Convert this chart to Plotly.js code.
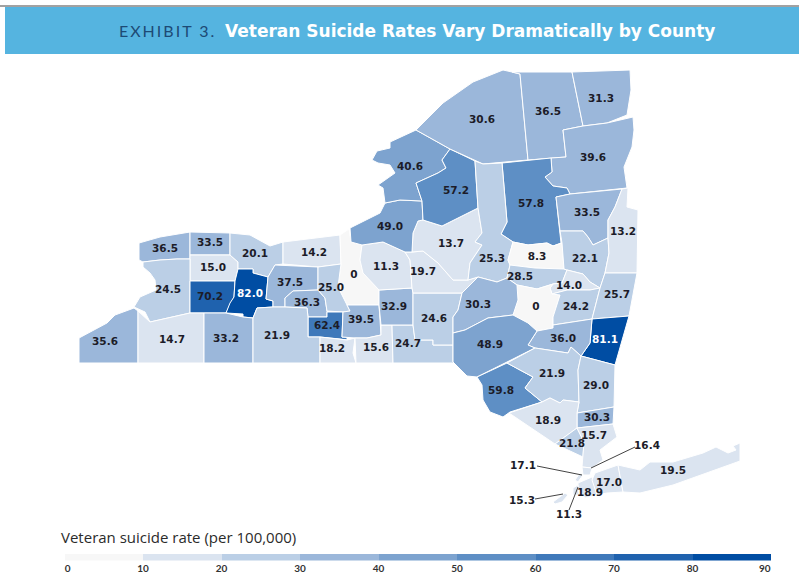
<!DOCTYPE html>
<html><head><meta charset="utf-8">
<script src="https://cdn.plot.ly/plotly-3.0.1.min.js"></script>
<style>html,body{margin:0;padding:0;background:#fff}
.annotation[data-index="0"] text{letter-spacing:2px}</style></head>
<body><div id="chart" style="width:799px;height:574px"></div>
<script>
const countyNames = ["Niagara","Orleans","Genesee","Monroe","Wayne","Cayuga","Erie","Wyoming","Livingston","Ontario","Yates","Seneca","Schuyler","Tompkins","Chautauqua","Cattaraugus","Allegany","Steuben","Chemung","Tioga","Broome","Cortland","Chenango","Onondaga","Madison","Oneida","Oswego","Jefferson","Lewis","St. Lawrence","Franklin","Clinton","Essex","Hamilton","Herkimer","Fulton","Montgomery","Warren","Saratoga","Washington","Schenectady","Schoharie","Albany","Rensselaer","Columbia","Greene","Otsego","Delaware","Sullivan","Ulster","Dutchess","Putnam","Orange","Rockland","Westchester","Bronx","New York","Queens","Kings","Richmond","Nassau","Suffolk"];
const countyRates = [36.5,33.5,15.0,20.1,14.2,0,24.5,70.2,82.0,37.5,36.3,25.0,62.4,39.5,35.6,14.7,33.2,21.9,18.2,15.6,24.7,32.9,24.6,11.3,19.7,13.7,49.0,40.6,57.2,30.6,36.5,31.3,39.6,57.8,25.3,8.3,28.5,33.5,22.1,13.2,14.0,0,24.2,25.7,81.1,36.0,30.3,48.9,59.8,21.9,29.0,30.3,18.9,21.8,15.7,16.4,17.1,18.9,11.3,15.3,17.0,19.5];
const labelX = [165,210,213,255,314,354,168,210,250,290,307,331,327,361,105,172,226,277,332,376,408,394,434,386,423,451,390,410,456,482,548,601,593,531,492,537,520,587,585,623,569,536,576,617,605,563,478,490,501,552,596,597,548,572,594,647,523,590,569,522,609,673];
const labelY = [249,243,268,254,253,275,290,297,294,283,303,288,326,320,342,340,339,336,349,348,344,307,319,267,272,244,227,167,191,120,112,99,158,204,259,257,277,213,259,232,286,307,307,295,340,339,305,345,391,374,386,418,421,444,436,446,466,493,515,501,483,471];
const countyOutlines = [
[139,243,160,237,190,232,190,259,177,259,160,260,143,262,139,260],
[190,232,230,233,230,255,190,255],
[190,255,230,255,238,262,238,269,235,281,190,281],
[230,233,250,235,270,246,283,242,283,264,275,265,268,277,253,273,253,269,238,269,238,262,230,255],
[283,242,340,235,341,264,318,267,283,264],
[340,235,349,229,351,242,362,245,360,260,363,273,379,290,379,305,347,305,338,287,341,264],
[143,262,160,260,177,259,190,259,190,313,150,322,145,312,134,307,140,297,156,290,155,280,150,273,143,267],
[190,281,235,281,234,297,226,313,190,313],
[238,269,253,269,253,273,268,277,266,299,273,301,273,307,257,308,253,318,243,317,243,314,226,313,230,303,234,297,235,281],
[275,265,318,267,318,290,293,291,285,298,285,307,273,307,273,301,266,299,268,277],
[293,291,318,290,325,298,327,311,327,317,308,317,307,308,285,307,285,298],
[318,267,341,264,338,287,350,311,343,312,327,311,325,298,318,290],
[308,317,327,317,327,312,343,312,342,337,347,337,347,340,340,339,320,337,308,337],
[343,312,350,311,347,305,379,305,381,335,367,338,355,338,342,337],
[79,338,107,323,115,315,134,308,138,311,138,363,79,363],
[138,311,150,322,190,313,204,313,204,363,138,363],
[204,313,226,313,243,317,253,318,253,363,204,363],
[253,318,257,308,273,307,285,307,307,308,308,317,308,337,320,337,320,363,253,363],
[320,337,340,339,347,340,355,338,353,353,356,363,320,363],
[355,338,367,338,381,335,381,325,392,325,393,363,356,363],
[392,325,413,325,415,340,433,340,433,345,453,345,453,362,458,363,393,363],
[379,290,412,288,413,293,413,325,392,325,381,325,379,305],
[413,293,462,293,458,310,453,317,453,333,453,345,433,345,433,340,415,340,413,325],
[362,245,383,242,405,252,410,260,412,288,379,290,363,273,360,260],
[405,252,412,252,423,251,438,263,453,280,468,280,478,277,462,293,413,293,412,288,410,260],
[418,221,423,220,442,226,478,208,482,233,475,242,482,245,470,263,468,280,453,280,438,263,423,251,412,252,413,233],
[385,203,400,200,422,201,423,220,418,221,413,233,412,252,405,252,383,242,362,245,351,242,350,228,380,213],
[372,160,377,151,390,148,390,142,416,130,450,149,442,160,446,168,438,173,416,183,422,201,400,200,385,203,383,188,378,185,395,173,390,165,378,163],
[450,149,475,161,478,208,442,226,423,220,422,201,416,183,438,173,446,168,442,160],
[416,130,443,103,473,82,503,70,512,72,520,74,528,160,483,164,450,149],
[512,72,572,72,583,126,563,130,566,157,551,158,528,160,520,74],
[572,72,630,70,631,90,627,115,607,123,583,126],
[563,130,583,126,607,123,633,117,634,130,632,147,624,167,627,188,570,194,567,188,553,186,545,177,552,172,551,158,566,157],
[502,163,528,160,551,158,552,172,545,177,553,186,567,188,570,194,556,197,561,243,553,246,547,243,528,245,513,242,501,234,507,222],
[475,161,483,164,502,163,507,222,501,234,513,242,508,260,510,265,507,278,497,282,478,277,468,280,470,263,482,245,475,242,482,233,478,208],
[513,242,528,245,547,243,553,246,562,243,564,269,535,268,510,265,508,260],
[510,265,535,268,564,269,567,270,562,283,553,284,537,289,517,285,507,278],
[556,197,570,194,622,189,615,207,608,220,608,238,593,245,588,237,583,231,560,231],
[560,231,583,231,588,237,593,245,608,238,609,253,605,273,600,288,590,282,583,274,567,270,564,269,562,243],
[622,189,628,188,627,207,638,210,637,273,605,273,609,253,608,238,608,220,615,207],
[567,270,583,274,590,282,600,288,590,290,567,290,552,294,550,288,553,284,562,283],
[517,285,537,289,553,284,550,288,552,294,560,295,553,317,553,328,537,331,528,323,513,315,518,300],
[552,294,567,290,590,290,600,288,592,319,553,325,553,317,560,295],
[605,273,637,273,629,316,592,319,600,288],
[592,319,629,316,617,358,615,365,581,356,590,343],
[537,331,553,328,553,325,592,319,590,343,581,356,571,347,568,353,535,348,528,345],
[462,293,478,277,497,282,507,278,517,285,518,300,513,315,488,318,465,330,453,333,453,317,458,310],
[453,333,465,330,488,318,513,315,528,323,537,331,528,345,535,348,477,377,467,376,453,362],
[507,363,533,377,525,388,542,402,510,412,503,417,490,412,483,400,482,385,477,377],
[507,363,535,348,568,353,571,347,581,356,578,370,579,402,563,400,560,403,550,398,542,402,525,388,533,377],
[581,356,615,365,614,407,577,413,579,402,578,370],
[577,413,614,407,613,424,577,428],
[509,413,542,402,550,398,560,403,563,400,579,402,577,413,577,428,555,444],
[555,444,577,428,584,442,583,457],
[577,428,613,424,617,437,600,450,603,460,592,468,582,467,584,442],
[582,467,592,468,590,475,583,475],
[583,475,578,482,575,480,580,473],
[578,483,592,477,597,495,585,498,578,488],
[573,488,578,485,579,495,573,495],
[553,502,565,493,568,495,562,502,555,504],
[595,473,618,465,623,492,607,493,597,495,592,480],
[618,465,640,470,650,462,673,462,703,453,716,447,722,450,728,453,736,450,733,446,740,443,740,461,673,485,640,493,623,492]
];
const leaderLines = [[591,468,635,447],[537,466,582,475],[535,499,563,494],[569,510,578,487]];
const binEdges = [0,10,20,30,40,50,60,70,80,90];
const binColors = ["#f7f7f7","#dbe4f0","#bbcfe6","#9bb7da","#7da3cf","#5e8fc5","#3f79ba","#1f62ae","#004da3"];
const legendTickVals = [0.4,10,20,30,40,50,60,70,80,89.2];
const legendTickText = ["0","10","20","30","40","50","60","70","80","90"];
const titleLead = "EXHIBIT 3.";
const titleMain = "Veteran Suicide Rates Vary Dramatically by County";
const legendTitle = "Veteran suicide rate (per 100,000)";

const colorFor = v => binColors[Math.min(binColors.length-1, Math.floor(v/10))];
const evens = a => a.filter((_,i)=>i%2===0);
const odds = a => a.filter((_,i)=>i%2===1);

const traces = [];
countyOutlines.forEach((o,i)=>{
  const xs = evens(o), ys = odds(o);
  traces.push({type:"scatter",mode:"lines",x:xs.concat(xs[0]),y:ys.concat(ys[0]),fill:"toself",
    fillcolor:colorFor(countyRates[i]),line:{color:"#ffffff",width:1},name:countyNames[i],hoverinfo:"skip"});
});
leaderLines.forEach(l=>{
  traces.push({type:"scatter",mode:"lines",x:evens(l),y:odds(l),line:{color:"#444444",width:1},hoverinfo:"skip"});
});
traces.push({type:"scatter",mode:"text",x:labelX,y:labelY,
  text:countyRates.map(v=>v===0?"0":v.toFixed(1)),
  textposition:"middle center",
  textfont:{family:"DejaVu Sans",size:10.5,weight:"bold",color:countyRates.map(v=>v>=80?"#ffffff":"#1c1c28")},
  hoverinfo:"skip"});
traces.push({type:"bar",xaxis:"x2",yaxis:"y2",
  x:binColors.map((_,i)=>(binEdges[i]+binEdges[i+1])/2),y:binColors.map(()=>1),width:binColors.map(()=>10),
  marker:{color:binColors,line:{width:0}},hoverinfo:"skip"});

const layout = {
  width:799,height:574,autosize:false,showlegend:false,
  margin:{l:0,r:0,t:0,b:0},paper_bgcolor:"#ffffff",plot_bgcolor:"#ffffff",
  xaxis:{domain:[0,1],range:[0,799],visible:false,fixedrange:true},
  yaxis:{domain:[0,1],range:[574,0],visible:false,fixedrange:true},
  xaxis2:{domain:[64.5/799,771/799],range:[0,90],anchor:"y2",showgrid:false,zeroline:false,showline:false,ticks:"",
    tickmode:"array",tickvals:legendTickVals,ticktext:legendTickText,fixedrange:true,
    tickfont:{family:"Lato",size:10,weight:"bold",color:"#333333"}},
  yaxis2:{domain:[1-560.5/574,1-553.5/574],range:[0,1],anchor:"x2",visible:false,fixedrange:true},
  bargap:0,
  shapes:[
    {type:"rect",xref:"x",yref:"y",x0:5,x1:799,y0:7,y1:54,fillcolor:"#55b4e0",line:{width:0},layer:"below"},
    {type:"line",xref:"x",yref:"y",x0:0,x1:799,y0:6,y1:6,line:{color:"#444444",width:1},layer:"below"}
  ],
  annotations:[
    {xref:"x",yref:"y",x:127,y:30.5,xanchor:"left",yanchor:"middle",showarrow:false,text:titleLead,
      font:{family:"Lato",size:16,color:"#1d4a75"}},
    {xref:"x",yref:"y",x:223,y:30.5,xanchor:"left",yanchor:"middle",showarrow:false,text:"<b>"+titleMain+"</b>",
      font:{family:"DejaVu Sans",size:17,color:"#ffffff"}},
    {xref:"x",yref:"y",x:59,y:537,xanchor:"left",yanchor:"middle",showarrow:false,text:legendTitle,
      font:{family:"Open Sans",size:15,color:"#2b2b2b"}}
  ]
};
Plotly.newPlot("chart",traces,layout,{displayModeBar:false,staticPlot:true});
</script></body></html>
